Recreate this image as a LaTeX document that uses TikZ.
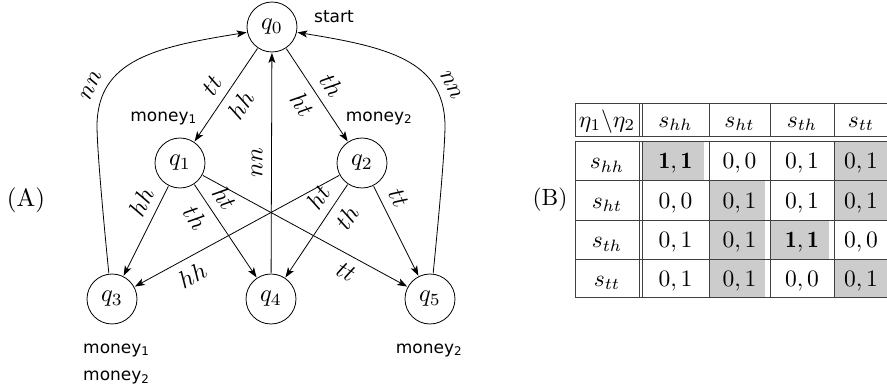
\documentclass[tikz,border=0pt]{standalone}
\usepackage{fontspec}
\usetikzlibrary{arrows.meta}
\newfontfamily\labfont{DejaVu Sans}
\begin{document}
\begin{tikzpicture}[x=1pt,y=-1pt,
  st/.style={circle,draw,line width=0.8pt,minimum size=20.4pt,inner sep=0pt,font=\normalsize,scale=2.45},
  arr/.style={-{Stealth[length=10pt,width=7pt,inset=2.5pt]},line width=0.8pt},
  arrrev/.style={{Stealth[length=10pt,width=7pt,inset=2.5pt]}-,line width=0.8pt},
  el/.style={font=\normalsize,scale=2.45,sloped},
  lab/.style={font=\labfont\fontsize{17}{20}\selectfont,inner sep=0pt,anchor=base},
  tbl/.style={line width=0.8pt,draw=black!75},
  cell/.style={font=\normalsize,scale=2.35,inner sep=0pt,anchor=base},
  shade/.style={fill=black!20}
]
\useasboundingbox (0,0) rectangle (887,389);

% states
\node[st] (q0) at (272,27) {$q_0$};
\node[st] (q1) at (180,163) {$q_1$};
\node[st] (q2) at (362,163) {$q_2$};
\node[st] (q3) at (112,299) {$q_3$};
\node[st] (q4) at (271,299) {$q_4$};
\node[st] (q5) at (430,299) {$q_5$};

% straight edges
\draw[arr] (q0) -- node[el,above]{$tt$} node[el,below]{$hh$} (q1);
\draw[arr] (q0) -- node[el,above]{$th$} node[el,below]{$ht$} (q2);
\draw[arr] (q4) -- node[el,above]{$nn$} (q0);
\draw[arr] (q1) -- node[el,pos=0.26,above]{$hh$} (q3);
\draw[arr] (q1) -- node[el,pos=0.25,above]{$ht$} node[el,pos=0.25,below]{$th$} (q4);
\draw[arr] (q1) -- node[el,pos=0.74,below]{$tt$} (q5);
\draw[arr] (q2) -- node[el,pos=0.76,below]{$hh$} (q3);
\draw[arr] (q2) -- node[el,pos=0.24,above]{$ht$} node[el,pos=0.25,below]{$th$} (q4);
\draw[arr] (q2) -- node[el,pos=0.22,above]{$tt$} (q5);

% curved edges back to q0
\draw[arr] (q3.97) .. controls (104,225) and (97,150) .. (97,125)
  .. controls (98,60) and (155,47) .. (q0.192) node[el,pos=0.2,above]{$nn$};
\draw[arrrev] (q0.348) .. controls (387,47) and (444,60) .. (445,125)
  node[el,pos=0.8,above]{$nn$}
  .. controls (445,150) and (438,225) .. (q5.83);

% state labels
\node[lab] (start) at (334,22) {start};
\node[lab] (m1a) at (163.5,121) {money\textsubscript{1}};
\node[lab] (m2a) at (379,121) {money\textsubscript{2}};
\node[lab,anchor=base west] (m1b) at (83,353) {money\textsubscript{1}};
\node[lab,anchor=base west] (m2b) at (83,380.5) {money\textsubscript{2}};
\node[lab] (m2c) at (429,353) {money\textsubscript{2}};

% panel letters
\node[font=\normalsize,scale=2.5,inner sep=0pt] (A) at (26,200) {(A)};
\node[font=\normalsize,scale=2.35,inner sep=0pt] (B) at (550,200) {(B)};

% table shading
\fill[shade] (642,141) rectangle (703.5,180);
\fill[shade] (709,180) rectangle (765,297);
\fill[shade] (770,220) rectangle (829,259);
\fill[shade] (834,141) rectangle (887,220);
\fill[shade] (834,259) rectangle (887,297);

% table rules
\foreach \yy in {103,136,141,180,220,259,297}
  \draw[tbl] (575,\yy) -- (887,\yy);
\foreach \xx in {575,639,642,709,770,834} {
  \draw[tbl] (\xx,103) -- (\xx,136);
  \draw[tbl] (\xx,141) -- (\xx,297);
}

% table header
\node[cell] (h0) at (607,127) {$\eta_1\backslash\eta_2$};
\node[cell] (h1) at (675.5,127) {$s_{hh}$};
\node[cell] (h2) at (739.5,127) {$s_{ht}$};
\node[cell] (h3) at (802,127) {$s_{th}$};
\node[cell] (h4) at (861,127) {$s_{tt}$};
% row s_hh
\node[cell] (r1c0) at (607,168.5) {$s_{hh}$};
\node[cell] (r1c1) at (675.5,168.5) {$\mathbf{1,1}$};
\node[cell] (r1c2) at (739.5,168.5) {$0,0$};
\node[cell] (r1c3) at (802,168.5) {$0,1$};
\node[cell] (r1c4) at (861,168.5) {$0,1$};
% row s_ht
\node[cell] (r2c0) at (607,208) {$s_{ht}$};
\node[cell] (r2c1) at (675.5,208) {$0,0$};
\node[cell] (r2c2) at (739.5,208) {$0,1$};
\node[cell] (r2c3) at (802,208) {$0,1$};
\node[cell] (r2c4) at (861,208) {$0,1$};
% row s_th
\node[cell] (r3c0) at (607,247.5) {$s_{th}$};
\node[cell] (r3c1) at (675.5,247.5) {$0,1$};
\node[cell] (r3c2) at (739.5,247.5) {$0,1$};
\node[cell] (r3c3) at (802,247.5) {$\mathbf{1,1}$};
\node[cell] (r3c4) at (861,247.5) {$0,0$};
% row s_tt
\node[cell] (r4c0) at (607,286) {$s_{tt}$};
\node[cell] (r4c1) at (675.5,286) {$0,1$};
\node[cell] (r4c2) at (739.5,286) {$0,1$};
\node[cell] (r4c3) at (802,286) {$0,0$};
\node[cell] (r4c4) at (861,286) {$0,1$};
\end{tikzpicture}
\end{document}
